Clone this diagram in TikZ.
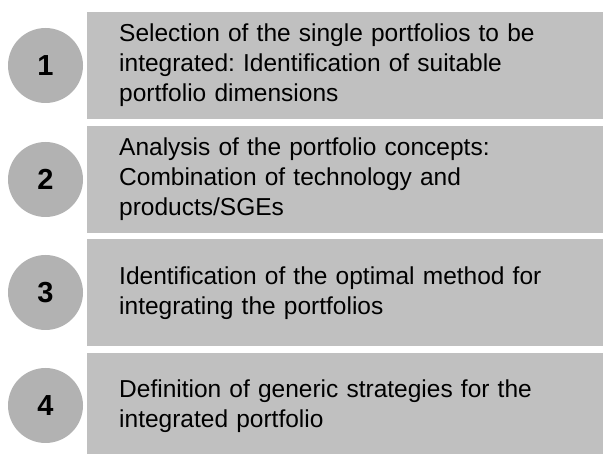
\documentclass[tikz,border=0pt]{standalone}
\usepackage{fontspec}
\setmainfont{Liberation Sans}
\definecolor{boxgray}{RGB}{192,192,192}
\definecolor{circgray}{RGB}{178,178,178}
\begin{document}
\frenchspacing
\begin{tikzpicture}[x=1pt,y=-1pt,
  stepbox/.style={fill=boxgray, draw=none, anchor=west, text width=452pt,
    inner xsep=32pt, inner ysep=0pt, minimum height=107pt, align=left,
    font=\fontsize{24.5}{30}\selectfont},
  numdot/.style={circle, fill=circgray, draw=none, minimum size=75pt, inner sep=0pt,
    font=\fontsize{29}{29}\bfseries\selectfont}]
\useasboundingbox (0,0) rectangle (603,454);
\clip (0,0) rectangle (603,454);
\node[stepbox] (b1) at (87,65.5) {Selection of the single portfolios to be\\integrated: Identification of suitable\\portfolio dimensions};
\node[stepbox] (b2) at (87,179.3) {Analysis of the portfolio concepts:\\Combination of technology and\\products/SGEs};
\node[stepbox] (b3) at (87,292.9) {Identification of the optimal method for\\integrating the portfolios};
\node[stepbox] (b4) at (87,406.5) {Definition of generic strategies for the\\integrated portfolio};
\node[numdot] (n1) at (45.5,65.5) {1};
\node[numdot] (n2) at (45.5,179.5) {2};
\node[numdot] (n3) at (45.5,292.5) {3};
\node[numdot] (n4) at (45.5,405.5) {4};
\end{tikzpicture}
\end{document}
